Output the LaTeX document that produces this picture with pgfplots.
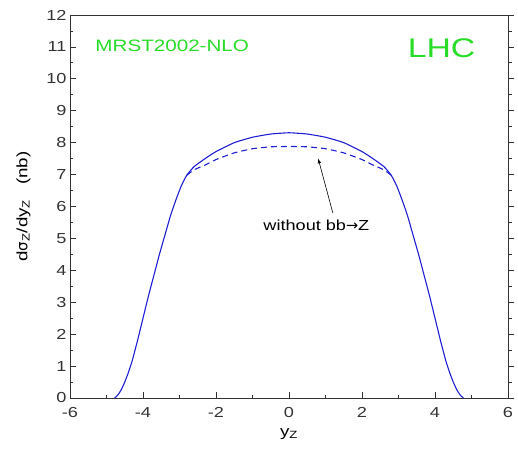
\documentclass[border=0pt]{standalone}
\usepackage{fontspec}
\setmainfont{Liberation Sans}[FakeStretch=1.25]
\usepackage{pgfplots}
\pgfplotsset{compat=1.18}
\definecolor{curveblue}{RGB}{30,30,210}
\definecolor{labgreen}{RGB}{40,220,40}
\begin{document}
\begin{tikzpicture}
\path[use as bounding box] (-70pt,-59pt) rectangle (448pt,398pt);
\begin{axis}[
  at={(0,0)}, anchor=south west,
  scale only axis, width=438pt, height=383pt,
  xmin=-6, xmax=6, ymin=0, ymax=12,
  xtick={-6,-4,...,6}, minor x tick num=1,
  ytick={0,1,...,12}, minor y tick num=1,
  xtick pos=bottom, ytick pos=left,
  tick align=inside,
  major tick length=6pt, minor tick length=3.5pt,
  axis line style={black!80, line width=0.8pt},
  every tick/.style={black!80, line width=0.8pt},
  ticklabel style={font=\fontsize{14.5}{16}\selectfont, text=black!80},
  xticklabel style={yshift=-6pt},
  /pgf/number format/assume math mode=true,
  xlabel={\fontsize{15}{17}\selectfont y\textsubscript{Z}},
  ylabel={\fontsize{15}{17}\selectfont d\fontspec{DejaVu Sans}σ\textsubscript{\fontspec{Liberation Sans}[FakeStretch=1.25]Z}\fontspec{Liberation Sans}[FakeStretch=1.25]/dy\textsubscript{Z}\quad (nb)},
  ylabel style={yshift=9pt},
  xlabel style={yshift=-4pt},
  clip=false,
]
\addplot[curveblue, line width=1.1pt, smooth, tension=0.3] coordinates {
(-4.78,0) (-4.7,0.08) (-4.6,0.25) (-4.5,0.5) (-4.4,0.8) (-4.3,1.15) (-4.15,1.8)
(-4.0,2.5) (-3.85,3.2) (-3.7,3.85) (-3.55,4.5) (-3.4,5.1) (-3.25,5.7) (-3.1,6.2)
(-2.95,6.65) (-2.8,6.98) (-2.6,7.25) (-2.3,7.5) (-2.0,7.72) (-1.5,8.0)
(-1.0,8.17) (-0.5,8.27) (0,8.31) (0.5,8.27) (1.0,8.17) (1.5,8.0) (2.0,7.72)
(2.3,7.5) (2.6,7.25) (2.8,6.98) (2.95,6.65) (3.1,6.2) (3.25,5.7) (3.4,5.1)
(3.55,4.5) (3.7,3.85) (3.85,3.2) (4.0,2.5) (4.15,1.8) (4.3,1.15) (4.4,0.8)
(4.5,0.5) (4.6,0.25) (4.7,0.08) (4.78,0)
};
\addplot[curveblue, line width=1.1pt, smooth, tension=0.3, dash pattern=on 6pt off 4pt] coordinates {
(-2.8,6.98) (-2.6,7.15) (-2.3,7.3) (-2.0,7.47) (-1.5,7.68) (-1.0,7.81)
(-0.5,7.87) (0,7.88) (0.5,7.87) (1.0,7.81) (1.5,7.68) (2.0,7.47) (2.3,7.3)
(2.6,7.15) (2.8,6.98)
};
\node[text=labgreen, font=\fontsize{16.5}{18}\selectfont, anchor=west] at (axis cs:-5.4,11.02) {MRST2002-NLO};
\node[text=labgreen, font=\fontsize{27}{30}\selectfont, anchor=east] at (axis cs:5.2,10.95) {LHC};
\node[text=black, font=\fontsize{14.5}{16}\selectfont] at (axis cs:0.75,5.4) {without bb\fontspec{DejaVu Sans}→\fontspec{Liberation Sans}[FakeStretch=1.25]Z};
\draw[-latex, black, line width=0.6pt] (axis cs:1.2,5.8) -- (axis cs:0.8,7.5);
\end{axis}
\begin{axis}[
  at={(0,0)}, anchor=south west,
  scale only axis, width=438pt, height=383pt,
  xmin=-6, xmax=6, ymin=0, ymax=12,
  hide x axis,
  axis y line*=right,
  ytick={0,1,...,12}, minor y tick num=1,
  yticklabels={},
  tick align=outside,
  major tick length=6pt, minor tick length=3.5pt,
  axis line style={black!80, line width=0.8pt},
  every tick/.style={black!80, line width=0.8pt},
]
\end{axis}
\end{tikzpicture}
\end{document}
